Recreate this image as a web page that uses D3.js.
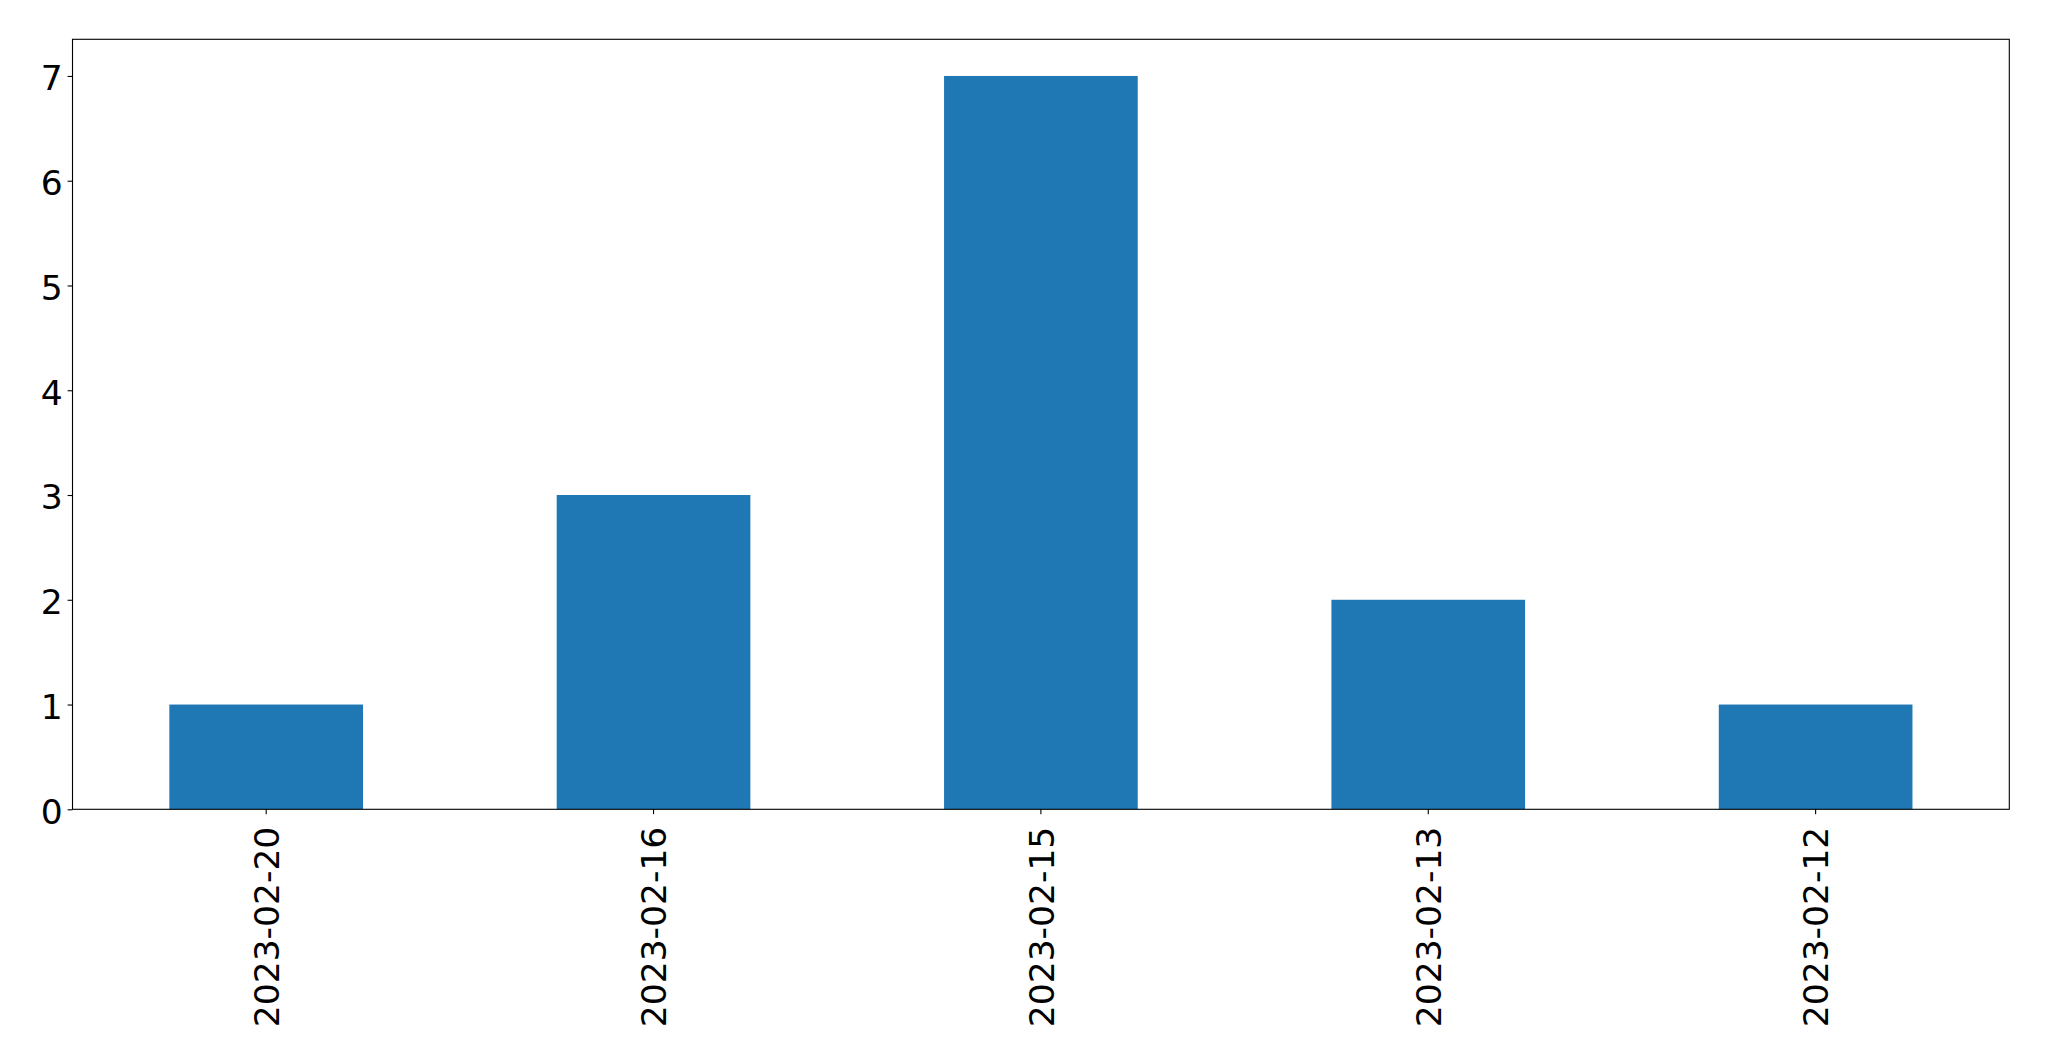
<!DOCTYPE html>
<html><head><meta charset="utf-8">
<script src="https://cdn.jsdelivr.net/npm/d3@7"></script>
<style>html,body{margin:0;padding:0;background:#fff;}svg{display:block;}</style>
</head><body>
<script>
const categories = ["2023-02-20","2023-02-16","2023-02-15","2023-02-13","2023-02-12"];
const values = [1,3,7,2,1];
const yTicks = [0,1,2,3,4,5,6,7];

const W = 2049, H = 1061;
const m = {left: 72.5, top: 39.3, right: 2049 - 2009.3, bottom: 1061 - 809.3};
const svg = d3.select("body").append("svg").attr("width", W).attr("height", H);
const g = svg.append("g").attr("transform", `translate(${m.left},${m.top})`);
const iw = W - m.left - m.right, ih = H - m.top - m.bottom;

const x = d3.scaleBand().domain(categories).range([0, iw]).paddingInner(0.5).paddingOuter(0.25);
const y = d3.scaleLinear().domain([0, 7 * 1.05]).range([ih, 0]);

g.selectAll("rect.bar").data(values).join("rect").attr("class","bar")
  .attr("x", (d,i) => x(categories[i]))
  .attr("width", x.bandwidth())
  .attr("y", d => y(d))
  .attr("height", d => ih - y(d))
  .attr("fill", "#1f77b4");

const font = "'DejaVu Sans', sans-serif";
const fs = 34.5;

const yAxis = g.append("g").call(d3.axisLeft(y).tickValues(yTicks).tickFormat(d3.format("d")).tickSize(4.9).tickPadding(4.9));
yAxis.select(".domain").remove();
yAxis.selectAll("line").attr("stroke","#000").attr("stroke-width",1.1);
yAxis.selectAll("text").attr("font-family", font).attr("font-size", fs).attr("fill","#000").attr("dy","0.40em");

const xAxis = g.append("g").attr("transform", `translate(0,${ih})`).call(d3.axisBottom(x).tickSize(4.9).tickPadding(4.9));
xAxis.select(".domain").remove();
xAxis.selectAll("line").attr("stroke","#000").attr("stroke-width",1.1);
xAxis.selectAll("text").attr("font-family", font).attr("font-size", fs).attr("fill","#000")
  .attr("transform", "rotate(-90)")
  .attr("text-anchor", "end")
  .attr("x", -17.4).attr("y", 0).attr("dy", "0.37em");

g.append("rect").attr("x",0).attr("y",0).attr("width",iw).attr("height",ih)
  .attr("fill","none").attr("stroke","#000").attr("stroke-width",1.1);
</script>
</body></html>
